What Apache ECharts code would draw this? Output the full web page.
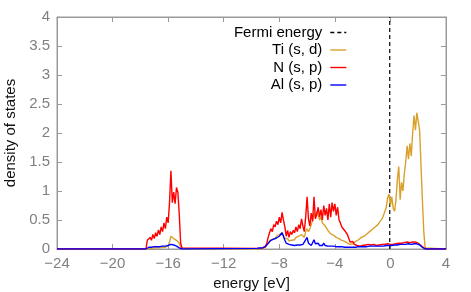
<!DOCTYPE html>
<html>
<head>
<meta charset="utf-8">
<script src="https://cdn.jsdelivr.net/npm/echarts@6/dist/echarts.min.js"></script>
<style>
html, body { margin: 0; padding: 0; background: #fff; }
#main { width: 471px; height: 292px; }
</style>
</head>
<body>
<div id="main"></div>
<script>
// energy grid of the two bands (eV)
var seg1Start = -17.6;
var seg2Start = -9.6;
var step = 0.1;
var fermiEnergy = -0.05;

// band around -16 eV : -17.6 .. -14.9
var tiSeg1 = [0, 0.01, 0.01, 0.02, 0.01, 0.02, 0.02, 0.02, 0.02, 0.03, 0.02, 0.03, 0.03, 0.03, 0.03, 0.04, 0.06, 0.12, 0.22, 0.2, 0.18, 0.16, 0.15, 0.14, 0.1, 0.03, 0.01, 0];
var nSeg1 = [0, 0.15, 0.12, 0.2, 0.15, 0.25, 0.18, 0.28, 0.22, 0.33, 0.25, 0.38, 0.3, 0.45, 0.35, 0.55, 0.45, 0.8, 1.35, 0.8, 0.98, 0.78, 1.06, 0.98, 0.6, 0.1, 0.02, 0];
var alSeg1 = [0, 0.03, 0.03, 0.04, 0.03, 0.04, 0.04, 0.05, 0.04, 0.05, 0.04, 0.05, 0.05, 0.06, 0.05, 0.06, 0.06, 0.07, 0.08, 0.06, 0.07, 0.05, 0.05, 0.04, 0.02, 0.01, 0, 0];

// valence/conduction band : -9.6 .. 2.6
var tiSeg2 = [0, 0.01, 0.01, 0.01, 0.01, 0.02, 0.03, 0.06, 0.1, 0.14,
  0.15, 0.17, 0.2, 0.18, 0.22, 0.2, 0.25, 0.22, 0.28, 0.22,
  0.18, 0.15, 0.18, 0.14, 0.17, 0.15, 0.18, 0.16, 0.2, 0.17,
  0.22, 0.2, 0.25, 0.22, 0.2, 0.3, 0.35, 0.3, 0.35, 0.42,
  0.5, 0.62, 0.55, 0.65, 0.58, 0.5, 0.55, 0.45, 0.48, 0.4,
  0.36, 0.32, 0.3, 0.26, 0.28, 0.24, 0.22, 0.2, 0.22, 0.18,
  0.17, 0.15, 0.16, 0.13, 0.12, 0.1, 0.11, 0.08, 0.07, 0.09,
  0.1, 0.13, 0.12, 0.16, 0.14, 0.2, 0.18, 0.22, 0.2, 0.26,
  0.24, 0.3, 0.28, 0.34, 0.32, 0.38, 0.36, 0.42, 0.46, 0.44,
  0.52, 0.58, 0.55, 0.72, 0.88, 0.95, 0.75, 0.9, 0.7, 0.65,
  0.85, 1.2, 1.42, 0.85, 1.15, 1.0, 1.3, 1.5, 1.78, 1.55,
  1.82, 1.6, 2.0, 2.3, 2.05, 2.35, 2.2, 2.05, 1.45, 0.85,
  0.3, 0.02, 0];
var nSeg2 = [0.01, 0.02, 0.01, 0.02, 0.02, 0.03, 0.05, 0.1, 0.2, 0.28,
  0.35, 0.3, 0.42, 0.38, 0.48, 0.42, 0.55, 0.45, 0.63, 0.5,
  0.38, 0.22, 0.32, 0.2, 0.3, 0.25, 0.32, 0.28, 0.38, 0.3,
  0.42, 0.35, 0.52, 0.4, 0.3, 0.55, 0.9, 0.52, 0.4, 0.62,
  0.48, 0.9, 0.52, 0.6, 0.72, 0.55, 0.68, 0.5, 0.75, 0.58,
  0.7, 0.5, 0.78, 0.55, 0.8, 0.65, 0.78, 0.58, 0.72, 0.5,
  0.45, 0.38, 0.35, 0.32, 0.3, 0.25, 0.22, 0.12, 0.1, 0.13,
  0.08, 0.1, 0.06, 0.08, 0.05, 0.07, 0.06, 0.05, 0.07, 0.06,
  0.08, 0.06, 0.07, 0.06, 0.08, 0.07, 0.06, 0.08, 0.07, 0.06,
  0.08, 0.07, 0.08, 0.07, 0.09, 0.07, 0.08, 0.09, 0.08, 0.1,
  0.09, 0.11, 0.1, 0.12, 0.1, 0.12, 0.11, 0.13, 0.12, 0.13,
  0.11, 0.13, 0.12, 0.13, 0.12, 0.11, 0.1, 0.08, 0.06, 0.04,
  0.02, 0, 0];
var alSeg2 = [0.01, 0.01, 0.02, 0.01, 0.02, 0.02, 0.04, 0.06, 0.1, 0.13,
  0.15, 0.13, 0.17, 0.15, 0.19, 0.17, 0.22, 0.2, 0.28, 0.22,
  0.15, 0.1, 0.12, 0.08, 0.1, 0.07, 0.08, 0.06, 0.08, 0.07,
  0.09, 0.07, 0.1, 0.08, 0.12, 0.1, 0.2, 0.1, 0.08, 0.06,
  0.08, 0.16, 0.09, 0.07, 0.1, 0.06, 0.08, 0.06, 0.1, 0.06,
  0.08, 0.05, 0.07, 0.05, 0.07, 0.05, 0.06, 0.04, 0.06, 0.04,
  0.05, 0.04, 0.05, 0.03, 0.04, 0.03, 0.04, 0.03, 0.04, 0.03,
  0.04, 0.03, 0.05, 0.04, 0.05, 0.04, 0.06, 0.04, 0.05, 0.04,
  0.06, 0.05, 0.06, 0.05, 0.07, 0.05, 0.06, 0.05, 0.07, 0.05,
  0.06, 0.05, 0.07, 0.06, 0.07, 0.06, 0.07, 0.06, 0.08, 0.07,
  0.08, 0.07, 0.09, 0.08, 0.1, 0.08, 0.09, 0.08, 0.1, 0.09,
  0.1, 0.08, 0.1, 0.09, 0.1, 0.09, 0.08, 0.07, 0.05, 0.03,
  0.02, 0, 0];

var seriesNames = ['Fermi energy', 'Ti (s, d)', 'N (s, p)', 'Al (s, p)'];
var seriesColors = ['#000000', '#d9a12b', '#ff0000', '#0000ff'];

var fontFam = 'Liberation Sans, Arial, sans-serif';

// turn the two bands into [energy, dos] pairs, zero outside
function buildDos(seg1, seg2) {
	var pts = [[-24, 0]];
	for (var i = 0; i < seg1.length; i++) {
		pts.push([Math.round((seg1Start + i * step) * 10) / 10, seg1[i]]);
	}
	for (var j = 0; j < seg2.length; j++) {
		pts.push([Math.round((seg2Start + j * step) * 10) / 10, seg2[j]]);
	}
	pts.push([4, 0]);
	return pts;
}

function dosSeries(name, color, data, dashed) {
	return {
		name : name,
		type : 'line',
		data : data,
		showSymbol : false,
		symbol : 'none',
		animation : false,
		color : color,
		lineStyle : {
			color : color,
			width : dashed ? 1.2 : 1.4,
			type : dashed ? [4, 3] : 'solid'
		}
	};
}

function minus(v) {
	return String(v).replace('-', '\u2212');
}

// one legend per row so the keys line up on the right, gnuplot style
var legends = [];
for (var k = 0; k < seriesNames.length; k++) {
	legends.push({
		data : [seriesNames[k]],
		right : 124,
		top : 25 + k * 17.5,
		padding : 0,
		align : 'right',
		itemWidth : 16,
		itemHeight : 14,
		selectedMode : false,
		itemStyle : { opacity : 0 },
		lineStyle : { width : 1.4 },
		textStyle : {
			fontFamily : fontFam,
			fontSize : 15,
			color : '#000',
			padding : [0, 3, 0, 0]
		}
	});
}

var axisGrey = '#9a9a9a';
var option = {
	backgroundColor : '#fff',
	animation : false,
	grid : {
		left : 57,
		right : 25,
		top : 17,
		bottom : 43,
		show : true,
		outerBoundsMode : 'none',
		containLabel : false,
		borderColor : axisGrey,
		borderWidth : 1
	},
	legend : legends,
	xAxis : [ {
		type : 'value',
		min : -24,
		max : 4,
		interval : 4,
		name : 'energy [eV]',
		nameLocation : 'middle',
		nameGap : 27,
		nameTextStyle : { fontFamily : fontFam, fontSize : 15, color : '#111' },
		axisLine : { show : true, onZero : false, lineStyle : { color : axisGrey } },
		axisTick : { show : true, inside : true, length : 5, lineStyle : { color : axisGrey } },
		axisLabel : { fontFamily : fontFam, fontSize : 15, color : '#808080', margin : 7, formatter : minus },
		splitLine : { show : false }
	}, {
		type : 'value',
		position : 'top',
		min : -24,
		max : 4,
		interval : 4,
		axisLine : { show : true, onZero : false, lineStyle : { color : axisGrey } },
		axisTick : { show : true, inside : true, length : 5, lineStyle : { color : axisGrey } },
		axisLabel : { show : false },
		splitLine : { show : false }
	} ],
	yAxis : [ {
		type : 'value',
		min : 0,
		max : 4,
		interval : 0.5,
		name : 'density of states',
		nameLocation : 'middle',
		nameGap : 34,
		nameTextStyle : { fontFamily : fontFam, fontSize : 15, color : '#111' },
		axisLine : { show : true, onZero : false, lineStyle : { color : axisGrey } },
		axisTick : { show : true, inside : true, length : 5, lineStyle : { color : axisGrey } },
		axisLabel : { fontFamily : fontFam, fontSize : 15, color : '#808080', margin : 7 },
		splitLine : { show : false }
	}, {
		type : 'value',
		position : 'right',
		min : 0,
		max : 4,
		interval : 0.5,
		axisLine : { show : true, onZero : false, lineStyle : { color : axisGrey } },
		axisTick : { show : true, inside : true, length : 5, lineStyle : { color : axisGrey } },
		axisLabel : { show : false },
		splitLine : { show : false }
	} ],
	series : [
		dosSeries(seriesNames[0], seriesColors[0], [[fermiEnergy, 0], [fermiEnergy, 4]], true),
		dosSeries(seriesNames[1], seriesColors[1], buildDos(tiSeg1, tiSeg2), false),
		dosSeries(seriesNames[2], seriesColors[2], buildDos(nSeg1, nSeg2), false),
		dosSeries(seriesNames[3], seriesColors[3], buildDos(alSeg1, alSeg2), false)
	]
};

var myChart = echarts.init(document.getElementById('main'));
myChart.setOption(option, true);
</script>
</body>
</html>
